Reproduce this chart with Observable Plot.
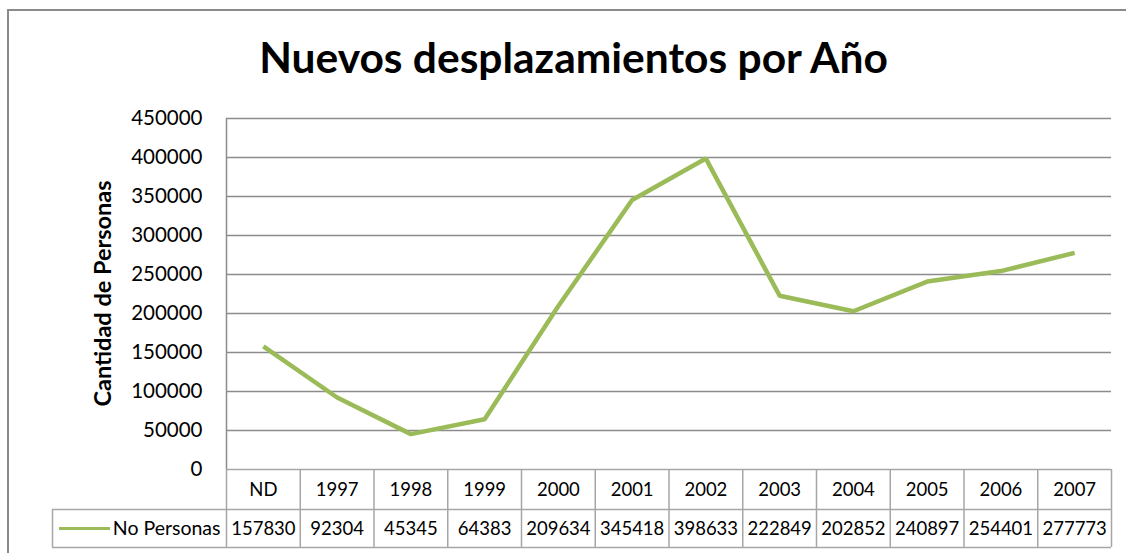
<!DOCTYPE html>
<html>
<head>
<meta charset="utf-8">
<script src="https://cdn.jsdelivr.net/npm/d3@7"></script>
<script src="https://cdn.jsdelivr.net/npm/@observablehq/plot@0.6"></script>
<style>
  html, body { margin: 0; padding: 0; background: #fff; overflow: hidden; }
  #wrap { position: relative; width: 1126px; height: 553px; }
  #border { position: absolute; left: 7px; top: 9px; width: 1300px; height: 700px;
            border-left: 2px solid #8a8a8a; border-top: 2px solid #8a8a8a; pointer-events: none; }
  svg { position: absolute; left: 0; top: 0; }
</style>
</head>
<body>
<div id="wrap"><div id="border"></div></div>
<script>
const categories = ["ND","1997","1998","1999","2000","2001","2002","2003","2004","2005","2006","2007"];
const values = [157830, 92304, 45345, 64383, 209634, 345418, 398633, 222849, 202852, 240897, 254401, 277773];
const yTicks = [0, 50000, 100000, 150000, 200000, 250000, 300000, 350000, 400000, 450000];
const seriesName = "No Personas";
const titleText = "Nuevos desplazamientos por Año";
const yLabel = "Cantidad de Personas";

const W = 1126, H = 553;
const mL = 226, mR = 15, mT = 118, mB = 84;
const n = categories.length;
const colW = (W - mL - mR) / n;
const yMax = 450000;
const k = yMax / (H - mT - mB);
// layout helpers: pixel -> data units (for table/legend furniture)
const ux = p => (p - mL) / colW;
const uy = p => (H - mB - p) * k;

const data = categories.map((c, i) => ({cat: c, i, v: values[i]}));
const font = "Lato, 'Open Sans', sans-serif";
const gridColor = "#8c8c8c";
const tableColor = "#a6a6a6";
const green = "#9BBB59";

const chart = Plot.plot({
  width: W, height: H,
  marginLeft: mL, marginRight: mR, marginTop: mT, marginBottom: mB,
  style: {fontFamily: font, background: "transparent", color: "#000"},
  x: {domain: [0, n], axis: null},
  y: {domain: [0, yMax], axis: null},
  marks: [
    Plot.gridY(yTicks.slice(1), {stroke: gridColor, strokeOpacity: 1, strokeWidth: 1.5}),
    Plot.axisY(yTicks, {tickSize: 0, tickPadding: 24, fontSize: 20.5, tickFormat: d3.format("d"), label: null}),
    // plot-area left edge
    Plot.ruleX([0], {y1: 0, y2: yMax, stroke: gridColor, strokeWidth: 1.5}),
    // data table
    Plot.ruleY([0], {x1: 0, x2: n, stroke: tableColor, strokeWidth: 1.5}),
    Plot.ruleY([uy(509), uy(547)], {x1: ux(52), x2: n, stroke: tableColor, strokeWidth: 1.5}),
    Plot.ruleX(d3.range(n + 1), {y1: 0, y2: uy(547), stroke: tableColor, strokeWidth: 1.5}),
    Plot.ruleX([ux(52)], {y1: uy(509), y2: uy(547), stroke: tableColor, strokeWidth: 1.5}),
    Plot.text(data, {x: d => d.i + 0.5, y: uy(490), text: "cat", fontSize: 18.5, lineAnchor: "middle"}),
    Plot.text(data, {x: d => d.i + 0.5, y: uy(529), text: d => String(d.v), fontSize: 18.5, lineAnchor: "middle"}),
    // legend key in table
    Plot.ruleY([uy(528)], {x1: ux(59), x2: ux(110), stroke: green, strokeWidth: 3}),
    Plot.text([seriesName], {x: ux(220), y: uy(528), text: d => d, textAnchor: "end", fontSize: 19.5, lineAnchor: "middle"}),
    // series line
    Plot.line(data, {x: d => d.i + 0.5, y: "v", stroke: green, strokeWidth: 4.5, strokeLinejoin: "miter", strokeLinecap: "butt"}),
    // title
    Plot.text([titleText], {x: ux(573), y: uy(59), text: d => d, fontSize: 42.5, fontWeight: "bold", lineAnchor: "middle"}),
    // y label
    Plot.text([yLabel], {x: ux(103), y: uy(293), text: d => d, fontSize: 23.5, fontWeight: "bold", rotate: -90, lineAnchor: "middle"})
  ]
});
document.getElementById("wrap").appendChild(chart);
</script>
</body>
</html>
